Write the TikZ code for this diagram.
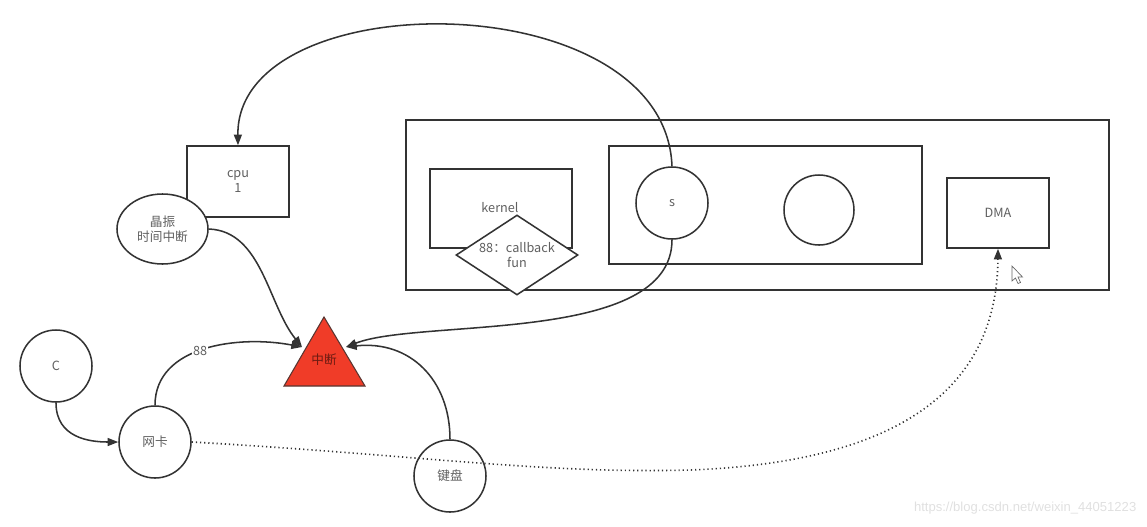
\documentclass[tikz,border=0pt]{standalone}
\usepackage{fontspec}
\newfontfamily\cjk{Noto Sans CJK SC}
\newfontfamily\wmfont{Liberation Sans}
\usetikzlibrary{arrows.meta,shapes.geometric}
\definecolor{ln}{HTML}{333333}
\definecolor{tx}{HTML}{606060}
\definecolor{trired}{HTML}{F03C28}
\tikzset{
  x=0.75pt, y=-0.75pt,
  every node/.style={font=\cjk\fontsize{9.5}{11.5}\selectfont, text=tx, align=center},
  boxnode/.style={draw=ln, line width=1.15pt, fill=white, rectangle, inner sep=0pt},
  circnode/.style={draw=ln, line width=1.15pt, fill=white, circle, inner sep=0pt, minimum size=54pt},
  conn/.style={draw=ln, line width=1.15pt, -{Triangle[length=8pt,width=6pt]}},
  dotconn/.style={draw=ln, line width=1.2pt, dash pattern=on 0.9pt off 2.2pt, -{Triangle[length=8pt,width=6pt]}},
}
\begin{document}
\begin{tikzpicture}
\useasboundingbox (0,0) rectangle (1147,526);
% containers
\node[boxnode, minimum width=527.25pt, minimum height=127.5pt] (outer) at (757.5,205) {};
\node[boxnode, minimum width=106.5pt, minimum height=59.25pt] (kernel) at (501,208.5) {};
\node[boxnode, minimum width=234.75pt, minimum height=88.5pt] (inner) at (765.5,205) {};
\node[circnode, minimum size=54pt] (s) at (672,203) {s};
\node[circnode, minimum size=52.5pt] (empty) at (819,210) {};
\node[boxnode, minimum width=76.5pt, minimum height=52.5pt] (dma) at (998,213) {DMA};
\node[diamond, draw=ln, line width=1.15pt, fill=white, inner sep=0pt, aspect=1.5,
      minimum width=91.5pt, minimum height=60pt] (cb) at (517,255) {88：callback\\fun};
\node (kerneltxt) at (500,208) {kernel};
% left part
\node[boxnode, minimum width=76.5pt, minimum height=53.25pt] (cpu) at (238,181.5) {cpu\\1};
\node[ellipse, draw=ln, line width=1.15pt, fill=white, inner sep=0pt,
      minimum width=68.25pt, minimum height=52.5pt] (jz) at (162.5,229) {晶振\\时间中断};
\node[circnode] (C) at (56,366) {C};
\node[circnode] (wk) at (155,442) {网卡};
\node[circnode] (jp) at (450,476) {键盘};
% interrupt triangle
\draw[fill=trired, draw=ln!80!trired, line width=0.8pt] (324,317) -- (365,386) -- (284,386) -- cycle;
\node[text=black!55!trired] (zd) at (324,360) {中断};
\coordinate (triL) at (302,347);
\coordinate (triR) at (346,347);
% connectors
\draw[conn] (s.north) .. controls (665,-18) and (236,-18) .. (cpu.north);
\draw[conn] (s.south) .. controls (672,345) and (420,318) .. (triR);
\draw[conn] (jz.east) .. controls (262,231) and (268,305) .. (triL);
\draw[conn] (wk.north) .. controls (155,345) and (240,335) .. node[pos=0.47, fill=white, inner sep=1pt] (l88) {88} (triL);
\draw[conn] (jp.north) .. controls (450,380) and (410,340) .. (triR);
\draw[conn] (C.south) .. controls (56,438) and (90,442) .. (wk.west);
\draw[dotconn] (wk.east) .. controls (420,455) and (540,474) .. (690,470)
   .. controls (905,462) and (997,385) .. (dma.south);
% mouse cursor
\draw[draw=black!60, fill=white, line width=0.5pt] (1012,266) -- (1012,281) -- (1015.5,278) -- (1018,283.5) -- (1020.5,282.5) -- (1018,277) -- (1022.5,277) -- cycle;
% watermark
\node[font=\wmfont\fontsize{9.8}{11}\selectfont, text=black!12, anchor=east] (wm) at (1141,508) {https://blog.csdn.net/weixin\_44051223};
\end{tikzpicture}
\end{document}
